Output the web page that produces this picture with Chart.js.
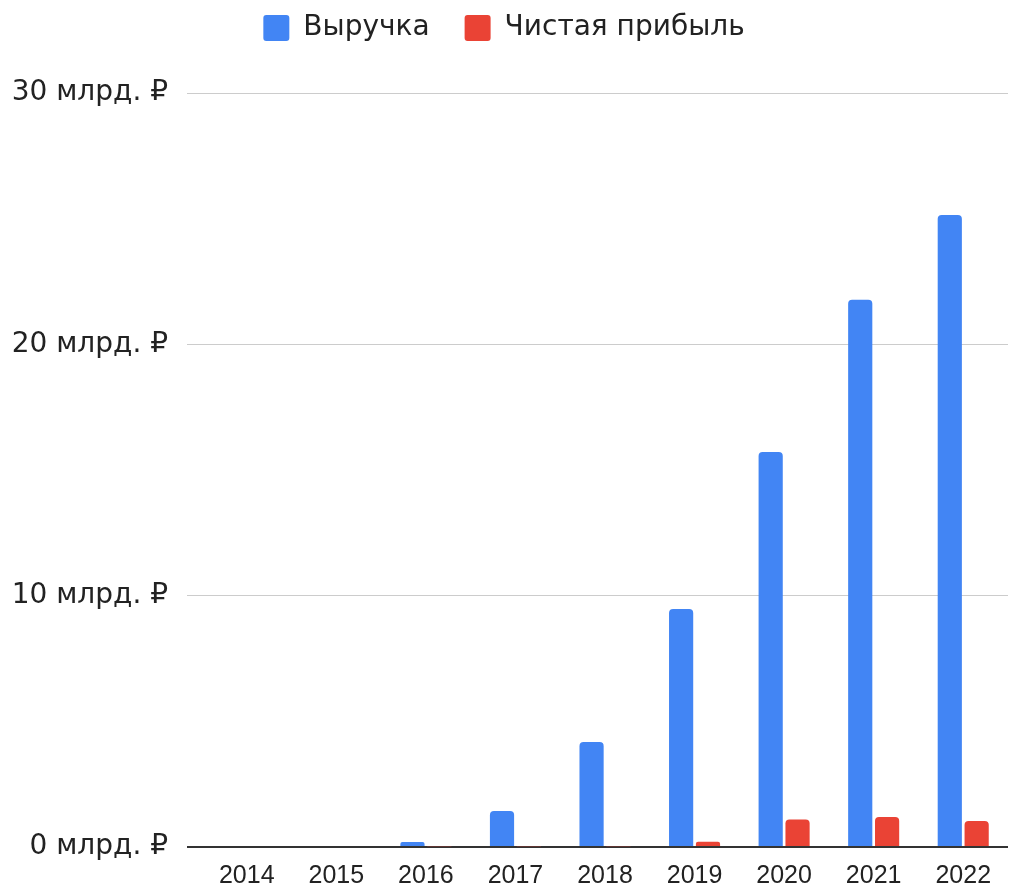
<!DOCTYPE html>
<html>
<head>
<meta charset="utf-8">
<script src="https://cdn.jsdelivr.net/npm/chart.js@4.4.0/dist/chart.umd.min.js"></script>
<style>
  html, body { margin: 0; padding: 0; background: #fff; }
  #wrap { width: 1014px; height: 885px; position: relative; }
</style>
</head>
<body>
<div id="wrap"><canvas id="chart"></canvas></div>
<script>
// data, billions of rubles
const years = ['2014', '2015', '2016', '2017', '2018', '2019', '2020', '2021', '2022'];
const revenue = [0, 0.04, 0.2, 1.43, 4.18, 9.47, 15.72, 21.77, 25.15];
const profit = [0, 0, 0.03, 0.03, 0.03, 0.21, 1.09, 1.19, 1.03];
const yTicks = [0, 10, 20, 30];

const ARIAL = "Arial, 'Liberation Sans', sans-serif";
const WIDE = "'DejaVu Sans', sans-serif";

// extra room under the legend before the plot starts
const legendGap = {
  id: 'legendGap',
  beforeInit(chart) {
    const fit = chart.legend.fit;
    chart.legend.fit = function () {
      fit.call(this);
      this.height += 41;
    };
  }
};

new Chart(document.getElementById('chart'), {
  type: 'bar',
  plugins: [legendGap],
  data: {
    labels: years,
    datasets: [
      {
        label: 'Выручка',
        data: revenue,
        backgroundColor: '#4285F4',
        borderRadius: { topLeft: 4, topRight: 4 },
        borderSkipped: 'start',
        categoryPercentage: 0.6,
        barPercentage: 0.9
      },
      {
        label: 'Чистая прибыль',
        data: profit,
        backgroundColor: '#EA4335',
        borderRadius: { topLeft: 4, topRight: 4 },
        borderSkipped: 'start',
        categoryPercentage: 0.6,
        barPercentage: 0.9
      }
    ]
  },
  options: {
    responsive: true,
    maintainAspectRatio: false,
    animation: false,
    layout: { padding: { left: 0, right: 6, top: -21, bottom: 0 } },
    plugins: {
      tooltip: { enabled: false },
      legend: {
        position: 'top',
        labels: {
          boxWidth: 26,
          boxHeight: 26,
          useBorderRadius: true,
          borderRadius: 3,
          padding: 35,
          color: '#222',
          font: { family: WIDE, size: 28 }
        }
      }
    },
    scales: {
      x: {
        grid: { display: false },
        border: { display: false },
        afterFit: (s) => { s.height = 38; },
        ticks: { color: '#222', font: { family: ARIAL, size: 25 }, padding: 6 }
      },
      y: {
        min: 0,
        max: 30,
        afterBuildTicks: (scale) => { scale.ticks = yTicks.map(v => ({ value: v })); },
        afterFit: (s) => { s.width = 202; },
        border: { display: false },
        grid: {
          tickLength: 15,
          color: (ctx) => ctx.tick && ctx.tick.value === 0 ? '#333' : '#ccc',
          lineWidth: (ctx) => ctx.tick && ctx.tick.value === 0 ? 2 : 1
        },
        ticks: {
          color: '#222',
          padding: 19,
          font: { family: WIDE, size: 28 },
          callback: (v) => v + ' млрд. ₽'
        }
      }
    }
  }
});
</script>
</body>
</html>
